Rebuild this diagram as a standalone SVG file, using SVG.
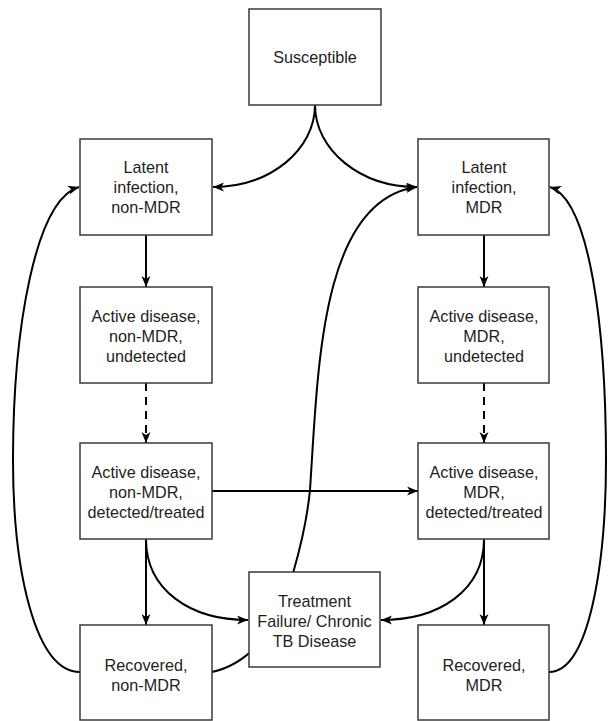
<svg xmlns="http://www.w3.org/2000/svg" width="612" height="721" viewBox="0 0 612 721">
<style>
.box{fill:#fff;stroke:#3a3a3a;stroke-width:1.5}
.lbl{font-family:"Liberation Sans",Arial,sans-serif;font-size:16.2px;fill:#1e1e1e;text-anchor:middle}
.c{fill:none;stroke:#000;stroke-width:2}
.arr{marker-end:url(#ah)}
.dash{stroke-dasharray:8,6}
</style>
<defs>
<marker id="ah" markerUnits="userSpaceOnUse" markerWidth="12" markerHeight="10" refX="11" refY="4.5" orient="auto">
<path d="M0,0 L11,4.5 L0,9 L3,4.5 z" fill="#000"/>
</marker>
</defs>
<rect width="612" height="721" fill="#fff"/>
<g id="connectors">
<path class="c arr" d="M315,105 C315,150 270,187 213,187"/>
<path class="c arr" d="M315,105 C315,150 360,187 417,187"/>
<path class="c arr" d="M146,235 L146,287"/>
<path class="c arr" d="M484,235 L484,287"/>
<path class="c arr dash" d="M146,383 L146,443"/>
<path class="c arr dash" d="M484,383 L484,443"/>
<path class="c arr" d="M212,491 L418,491"/>
<path class="c arr" d="M146,539 L146,625"/>
<path class="c arr" d="M484,539 L484,625"/>
<path class="c arr" d="M146,539 C146,590 190,620 248,620"/>
<path class="c arr" d="M484,539 C484,590 440,620 381,620"/>
<path class="c arr" d="M212,672 Q245,665 270,630 C285,608 305,540 310,490 C318,370 320,200 417,187"/>
<path class="c arr" d="M80,672 C35,672 13,570 13,460 C13,330 35,200 79,187"/>
<path class="c arr" d="M549,672 C590,672 606,560 606,460 C606,330 590,200 550,187"/>
</g>
<g id="susceptible">
<rect class="box" x="249" y="9" width="132" height="96"/>
<text class="lbl" x="315" y="63">Susceptible</text>
</g>
<g id="latent-nonmdr">
<rect class="box" x="80" y="139" width="132" height="96"/>
<text class="lbl" x="146" y="173">Latent</text>
<text class="lbl" x="146" y="193">infection,</text>
<text class="lbl" x="146" y="213">non-MDR</text>
</g>
<g id="latent-mdr">
<rect class="box" x="418" y="139" width="131" height="96"/>
<text class="lbl" x="484" y="173">Latent</text>
<text class="lbl" x="484" y="193">infection,</text>
<text class="lbl" x="484" y="213">MDR</text>
</g>
<g id="active-undetected-nonmdr">
<rect class="box" x="80" y="287" width="132" height="96"/>
<text class="lbl" x="146" y="322">Active disease,</text>
<text class="lbl" x="146" y="342">non-MDR,</text>
<text class="lbl" x="146" y="362">undetected</text>
</g>
<g id="active-undetected-mdr">
<rect class="box" x="418" y="287" width="131" height="96"/>
<text class="lbl" x="484" y="322">Active disease,</text>
<text class="lbl" x="484" y="342">MDR,</text>
<text class="lbl" x="484" y="362">undetected</text>
</g>
<g id="active-detected-nonmdr">
<rect class="box" x="80" y="443" width="132" height="96"/>
<text class="lbl" x="146" y="478">Active disease,</text>
<text class="lbl" x="146" y="498">non-MDR,</text>
<text class="lbl" x="146" y="518">detected/treated</text>
</g>
<g id="active-detected-mdr">
<rect class="box" x="418" y="443" width="131" height="96"/>
<text class="lbl" x="484" y="478">Active disease,</text>
<text class="lbl" x="484" y="498">MDR,</text>
<text class="lbl" x="484" y="518">detected/treated</text>
</g>
<g id="treatment-failure">
<rect class="box" x="249" y="572" width="131" height="95"/>
<text class="lbl" x="314.5" y="606.5">Treatment</text>
<text class="lbl" x="314.5" y="626.5">Failure/ Chronic</text>
<text class="lbl" x="314.5" y="646.5">TB Disease</text>
</g>
<g id="recovered-nonmdr">
<rect class="box" x="80" y="625" width="132" height="95"/>
<text class="lbl" x="146" y="671">Recovered,</text>
<text class="lbl" x="146" y="691">non-MDR</text>
</g>
<g id="recovered-mdr">
<rect class="box" x="418" y="625" width="131" height="95"/>
<text class="lbl" x="484" y="671">Recovered,</text>
<text class="lbl" x="484" y="691">MDR</text>
</g>
</svg>
